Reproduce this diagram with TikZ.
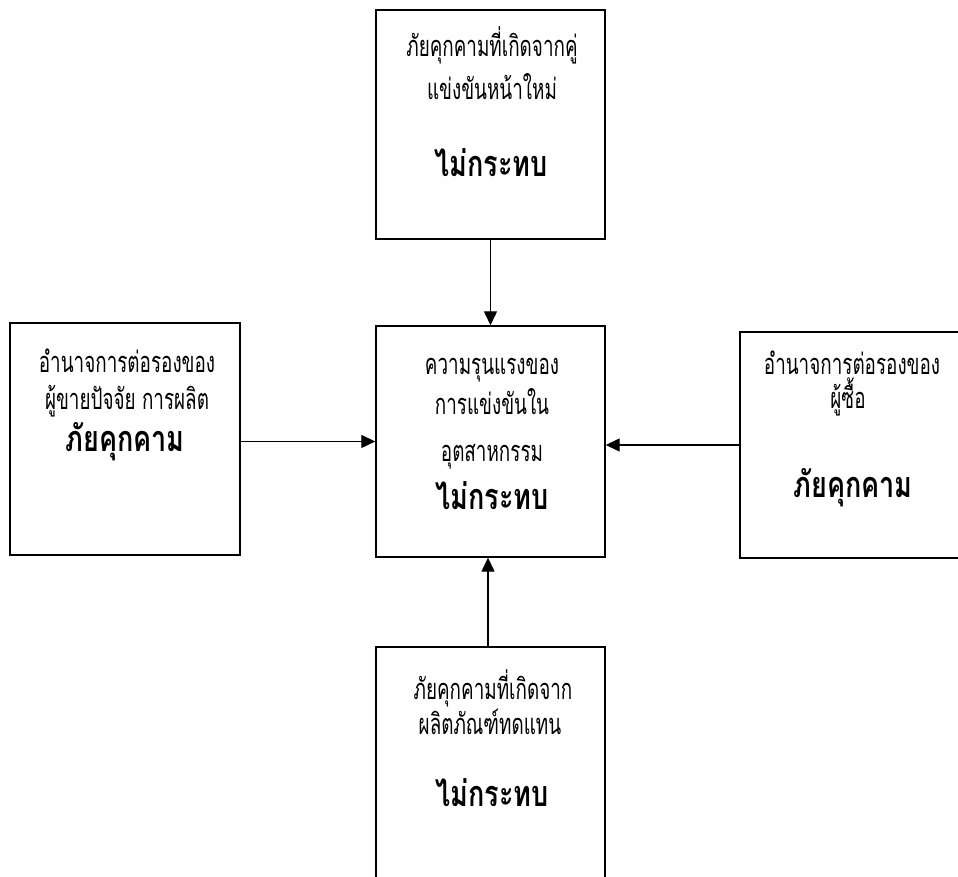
\documentclass[tikz,border=0pt]{standalone}
\usepackage{fontspec}
\newfontfamily\thai[Script=Thai, FakeStretch=0.65]{Loma}
\newfontfamily\thaihd[Script=Thai, FakeStretch=0.75]{Loma}
\usetikzlibrary{arrows.meta}
\tikzset{
  box/.style={draw=black, line width=1.4pt, minimum width=#1},
  box/.default=229pt,
  txt/.style={font=\thai\fontsize{29}{32}\selectfont, inner sep=0pt, anchor=base},
  hd/.style={font=\thaihd\bfseries\fontsize{36}{40}\selectfont, inner sep=0pt, anchor=base},
  link/.style={line width=1.3pt, -{Triangle[length=14pt,width=13pt]}}
}
\begin{document}
\begin{tikzpicture}[x=1pt,y=1pt]
\clip (0,0) rectangle (958,877);
\fill[white] (0,0) rectangle (958,877);
% boxes (y measured upward from the bottom edge)
\node[box, minimum height=229pt] (top) at (490.5,752.5) {};
\node[box, minimum height=231pt] (mid) at (490.5,435.5) {};
\node[box=230pt, minimum height=232pt] (lft) at (125,438) {};
\node[box=235pt, minimum height=226pt] (rgt) at (857.5,432) {};
\node[box, minimum height=232pt] (bot) at (490.5,114) {};
% texts, placed by their base lines
\node[txt] (top1) at (492,820) {ภัยคุกคามที่เกิดจากคู่};
\node[txt] (top2) at (492,777) {แข่งขันหน้าใหม่};
\node[hd]  (top3) at (491,700) {ไม่กระทบ};
\node[txt] (mid1) at (492,502) {ความรุนแรงของ};
\node[txt] (mid2) at (492,462) {การแข่งขันใน};
\node[txt] (mid3) at (492,415) {อุตสาหกรรม};
\node[hd]  (mid4) at (492,367) {ไม่กระทบ};
\node[txt] (lft1) at (127,504) {อำนาจการต่อรองของ};
\node[txt] (lft2) at (127,467) {ผู้ขายปัจจัย การผลิต};
\node[hd]  (lft3) at (125,425) {ภัยคุกคาม};
\node[txt] (rgt1) at (852,502) {อำนาจการต่อรองของ};
\node[txt] (rgt2) at (848,468) {ผู้ซื้อ};
\node[hd]  (rgt3) at (853,379) {ภัยคุกคาม};
\node[txt] (bot1) at (493,177) {ภัยคุกคามที่เกิดจาก};
\node[txt] (bot2) at (490,142) {ผลิตภัณฑ์ทดแทน};
\node[hd]  (bot3) at (492,70) {ไม่กระทบ};
% connectors into the centre box
\draw[link] (top.south) -- (mid.north);
\draw[link] (lft.east |- mid) -- (mid.west);
\draw[link] (rgt.west) -- (mid.east |- rgt.west);
\draw[link] (bot.north -| 488,0) -- (mid.south -| 488,0);
\end{tikzpicture}
\end{document}
